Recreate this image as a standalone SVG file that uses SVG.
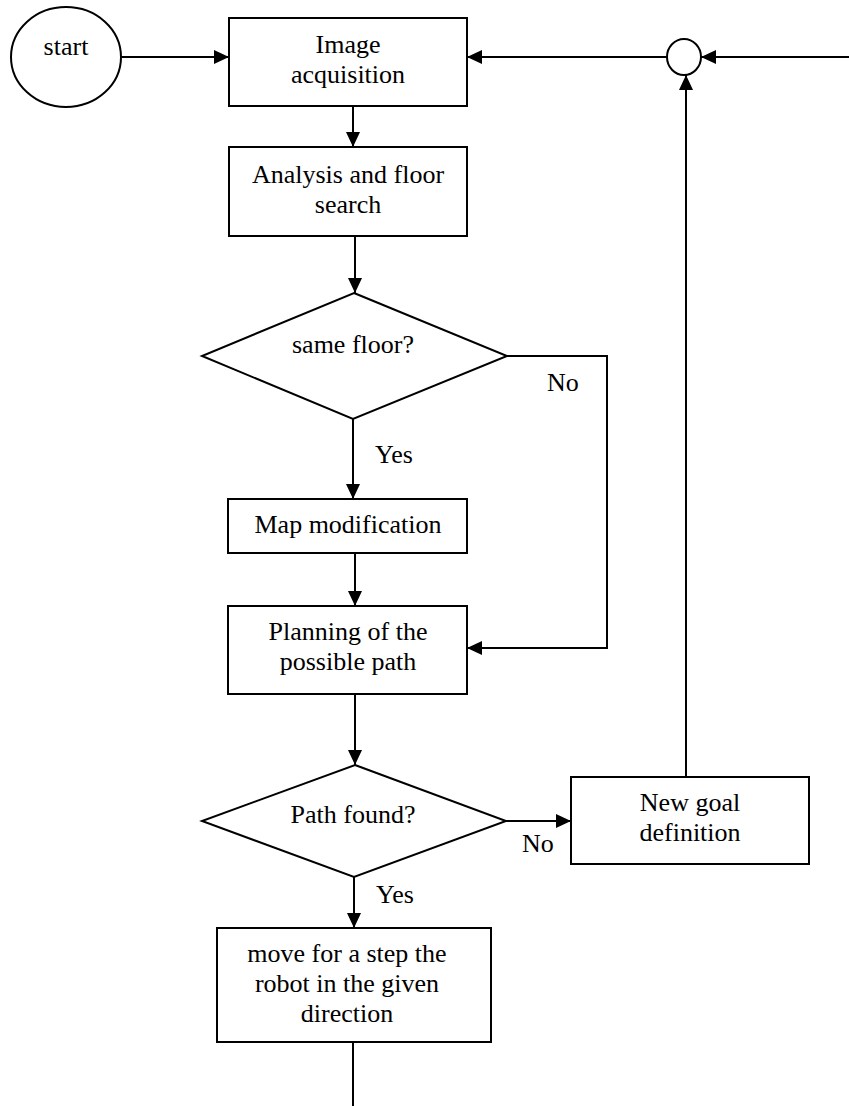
<svg xmlns="http://www.w3.org/2000/svg" width="849" height="1106" viewBox="0 0 849 1106">
<defs>
<marker id="arr" viewBox="0 0 15 14" refX="15" refY="7" markerWidth="15" markerHeight="14" markerUnits="userSpaceOnUse" orient="auto">
<path d="M0,0 L15,7 L0,14 Z" fill="#000"/>
</marker>
<style>
.n{fill:#fff;stroke:#000;stroke-width:2}
.c{fill:none;stroke:#000;stroke-width:2}
</style>
</defs>
<rect width="849" height="1106" fill="#fff"/>
<g id="connectors">
<path class="c" d="M120,57 L229,57" marker-end="url(#arr)"/>
<path class="c" d="M667,57 L467,57" marker-end="url(#arr)"/>
<path class="c" d="M849,57 L701,57" marker-end="url(#arr)"/>
<path class="c" d="M686,777 L686,75" marker-end="url(#arr)"/>
<path class="c" d="M353,106 L353,147" marker-end="url(#arr)"/>
<path class="c" d="M355,236 L355,293" marker-end="url(#arr)"/>
<path class="c" d="M353,419 L353,499" marker-end="url(#arr)"/>
<path class="c" d="M507,356 L607,356 L607,648 L467,648" marker-end="url(#arr)"/>
<path class="c" d="M355,553 L355,606" marker-end="url(#arr)"/>
<path class="c" d="M355,694 L355,765" marker-end="url(#arr)"/>
<path class="c" d="M506,821 L571,821" marker-end="url(#arr)"/>
<path class="c" d="M354,877 L354,928" marker-end="url(#arr)"/>
<path class="c" d="M353,1042 L353,1106"/>
<g font-family="'Liberation Serif', Tinos, 'Times New Roman', Times, serif" font-size="26" fill="#000">
<text x="375" y="463">Yes</text>
<text x="547" y="391">No</text>
<text x="522" y="852">No</text>
<text x="376" y="903">Yes</text>
</g>
</g>
<g font-family="'Liberation Serif', Tinos, 'Times New Roman', Times, serif" font-size="26" fill="#000" text-anchor="middle">
<g id="start">
<ellipse class="n" cx="66" cy="57" rx="55" ry="50"/>
<text x="66" y="55">start</text>
</g>
<g id="image-acquisition">
<rect class="n" x="229" y="18" width="238" height="88"/>
<text x="348" y="53">Image</text>
<text x="348" y="83">acquisition</text>
</g>
<g id="junction">
<ellipse class="n" cx="684" cy="57" rx="17" ry="18"/>
</g>
<g id="analysis">
<rect class="n" x="229" y="147" width="238" height="89"/>
<text x="348" y="183">Analysis and floor</text>
<text x="348" y="213">search</text>
</g>
<g id="same-floor">
<polygon class="n" points="354,293 507,356 353,419 202,356"/>
<text x="353" y="353">same floor?</text>
</g>
<g id="map-modification">
<rect class="n" x="228" y="499" width="239" height="54"/>
<text x="348" y="533">Map modification</text>
</g>
<g id="planning">
<rect class="n" x="228" y="606" width="239" height="88"/>
<text x="348" y="640">Planning of the</text>
<text x="348" y="670">possible path</text>
</g>
<g id="path-found">
<polygon class="n" points="355,765 506,821 354,877 202,821"/>
<text x="353" y="823">Path found?</text>
</g>
<g id="new-goal">
<rect class="n" x="571" y="777" width="238" height="87"/>
<text x="690" y="811">New goal</text>
<text x="690" y="841">definition</text>
</g>
<g id="move-step">
<rect class="n" x="217" y="928" width="274" height="114"/>
<text x="347" y="962">move for a step the</text>
<text x="347" y="992">robot in the given</text>
<text x="347" y="1022">direction</text>
</g>
</g>
</svg>
